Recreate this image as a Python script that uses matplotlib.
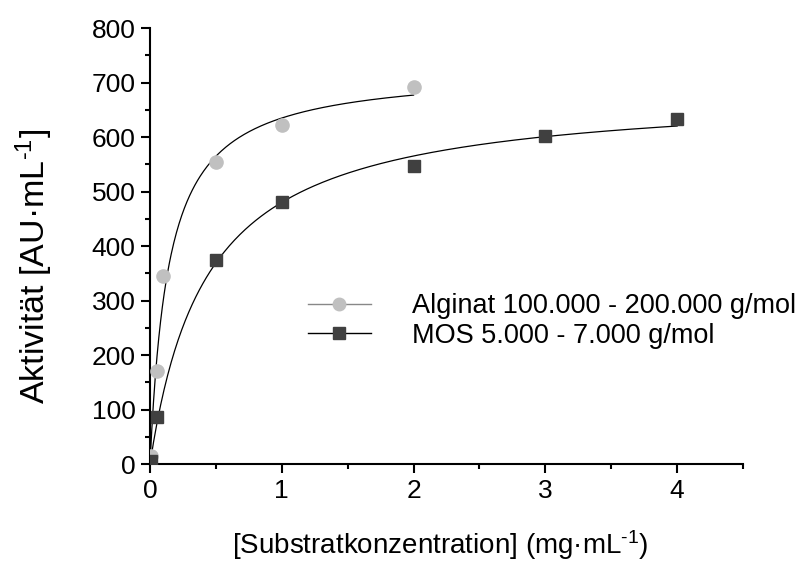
import matplotlib
matplotlib.use('Agg')
import matplotlib.pyplot as plt
import numpy as np

plt.rcParams['font.family'] = ['Liberation Sans', 'DejaVu Sans']
plt.rcParams['mathtext.fontset'] = 'custom'
plt.rcParams['mathtext.rm'] = 'Liberation Sans'
plt.rcParams['mathtext.default'] = 'rm'

# measured points
alg_x = [0.01, 0.05, 0.1, 0.5, 1.0, 2.0]
alg_y = [15, 170, 345, 555, 622, 692]
mos_x = [0.01, 0.05, 0.5, 1.0, 2.0, 3.0, 4.0]
mos_y = [5, 87, 375, 480, 547, 602, 633]

# Michaelis-Menten fit parameters (Vmax, Km)
alg_fit = (725, 0.142)
mos_fit = (687, 0.431)

alg_label = 'Alginat 100.000 - 200.000 g/mol'
mos_label = 'MOS 5.000 - 7.000 g/mol'


def mm(x, vmax, km):
    return vmax * x / (km + x)


fig = plt.figure(figsize=(8.03, 5.64), dpi=100)
ax = fig.add_axes([0.1868, 0.1773, 0.7385, 0.773])

xa = np.linspace(0, max(alg_x), 300)
xm = np.linspace(0, max(mos_x), 300)
ax.plot(xa, mm(xa, *alg_fit), color='black', linewidth=0.9)
ax.plot(xm, mm(xm, *mos_fit), color='black', linewidth=0.9)

ax.plot(alg_x, alg_y, 'o', color='#c0c0c0', markersize=9.5, zorder=3)
ax.plot(mos_x, mos_y, 's', color='#404040', markersize=8, zorder=3)

# legend proxies: line with marker
h1, = ax.plot([], [], '-o', color='#888888', markerfacecolor='#c0c0c0',
              markeredgecolor='#c0c0c0', markersize=9, linewidth=1)
h2, = ax.plot([], [], '-s', color='black', markerfacecolor='#404040',
              markeredgecolor='#404040', markersize=8, linewidth=1)
fig.legend([h1, h2], [alg_label, mos_label], loc='center left',
           bbox_to_anchor=(0.383, 0.431), frameon=False, fontsize=19.5,
           handlelength=2.35, handletextpad=1.5, labelspacing=0.13,
           borderpad=0, borderaxespad=0)

ax.set_xlim(0, 4.5)
ax.set_ylim(0, 800)
ax.set_xticks([0, 1, 2, 3, 4])
ax.set_xticks(np.arange(0, 4.6, 0.5), minor=True)
ax.set_yticks(np.arange(0, 801, 100))
ax.set_yticks(np.arange(0, 801, 50), minor=True)

ax.spines['top'].set_visible(False)
ax.spines['right'].set_visible(False)
for s in ['left', 'bottom']:
    ax.spines[s].set_linewidth(1.5)

ax.tick_params(which='major', direction='out', length=6.5, width=1.5,
               labelsize=19, pad=4)
ax.tick_params(which='minor', direction='out', length=3.5, width=1.5)

ax.set_xlabel('[Substratkonzentration] (mg·mL$^{\\text{-}1}$)', fontsize=20)
ax.set_ylabel('Aktivität [AU·mL$^{\\text{-}1}$]', fontsize=24.5)
ax.xaxis.set_label_coords(0.489, -0.148)
ax.yaxis.set_label_coords(-0.16, 0.452)

fig.savefig('out.png', dpi=100)
